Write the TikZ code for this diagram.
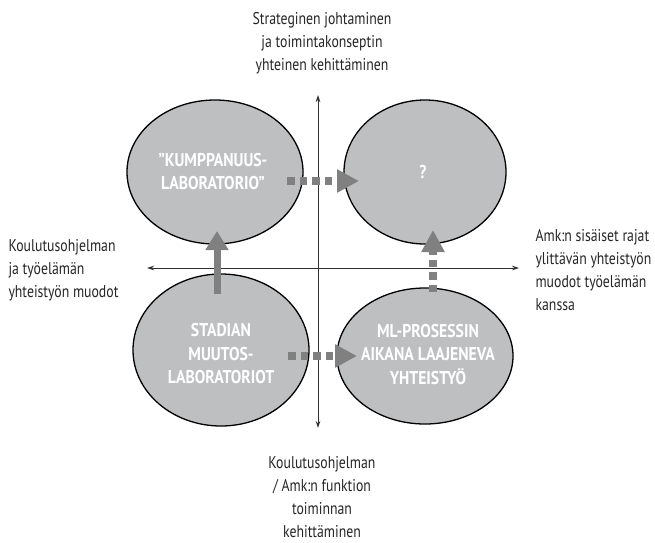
\documentclass[tikz,border=0pt]{standalone}
\usepackage{fontspec}
\setmainfont{PT Sans}[FakeStretch=0.85]
\newfontfamily\captionfont{PT Sans}[FakeStretch=0.81]
\usetikzlibrary{arrows.meta,shapes.geometric}
\definecolor{blobfill}{HTML}{BEBFC1}
\definecolor{flowgray}{HTML}{808080}
\definecolor{axisgray}{HTML}{303030}
\tikzset{
  blob/.style={ellipse, draw=black, line width=1.3pt, fill=blobfill},
  blobtext/.style={text=white, font=\fontsize{18.5}{23.5}\selectfont\bfseries, align=center},
  sidetext/.style={text=black!85, font=\captionfont\fontsize{17}{23}\selectfont},
  axisline/.style={draw=axisgray, line width=0.8pt,
     {Stealth[length=7pt,width=4.5pt]}-{Stealth[length=7pt,width=4.5pt]}},
  dottedflow/.style={draw=flowgray, line width=7.5pt, dash pattern=on 7.5pt off 5pt,
     -{Triangle[length=22pt,width=22pt]}},
  solidflow/.style={draw=flowgray, line width=7pt, -{Triangle[length=19pt,width=22pt]}},
}
\begin{document}
\begin{tikzpicture}[x=1pt,y=-1pt]
\useasboundingbox[fill=white] (0,0) rectangle (655,542);
% quadrant ellipses
\node[blob, minimum width=176pt, minimum height=144pt] (kl) at (215,172) {};
\node[blob, minimum width=162pt, minimum height=144pt] (q) at (425,172) {};
\node[blob, minimum width=176pt, minimum height=152pt] (sm) at (221,350) {};
\node[blob, minimum width=176pt, minimum height=136pt] (ml) at (425,356) {};
% axes
\coordinate (vb) at (318,428);
\coordinate (vt) at (318,95);
\coordinate (hl) at (147,268);
\coordinate (hr) at (519,268);
\draw[axisline] (vb) -- (vt);
\draw[axisline] (hl) -- (hr);
% ellipse labels
\node[blobtext] (klt) at (213,171.5) {”KUMPPANUUS-\\LABORATORIO”};
\node[blobtext] (qt) at (423,172) {?};
\node[blobtext] (smt) at (221,354) {STADIAN\\MUUTOS-\\LABORATORIOT};
\node[blobtext] (mlt) at (428,354.5) {ML-PROSESSIN\\AIKANA LAAJENEVA\\YHTEISTYÖ};
% development paths
\coordinate (a1s) at (287,181);
\coordinate (a1e) at (359,181);
\draw[dottedflow] (a1s) -- (a1e);
\coordinate (a2s) at (288,356);
\coordinate (a2e) at (357,356);
\draw[dottedflow] (a2s) -- (a2e);
\coordinate (a3s) at (433,292);
\coordinate (a3e) at (433,230);
\draw[dottedflow] (a3s) -- (a3e);
\coordinate (a4s) at (217,294);
\coordinate (a4e) at (217,231);
\draw[solidflow] (a4s) -- (a4e);
% axis captions
\node[sidetext, align=center] (top) at (322,43) {Strateginen johtaminen\\ja toimintakonseptin\\yhteinen kehittäminen};
\node[sidetext, align=left, anchor=west] (left) at (5,270) {Koulutusohjelman\\ja työelämän\\yhteistyön muodot};
\node[sidetext, align=left, anchor=west] (right) at (532,270) {Amk:n sisäiset rajat\\ylittävän yhteistyön\\muodot työelämän\\kanssa};
\node[sidetext, align=center] (bottom) at (322,497) {Koulutusohjelman\\/ Amk:n funktion\\toiminnan\\kehittäminen};
\end{tikzpicture}
\end{document}
